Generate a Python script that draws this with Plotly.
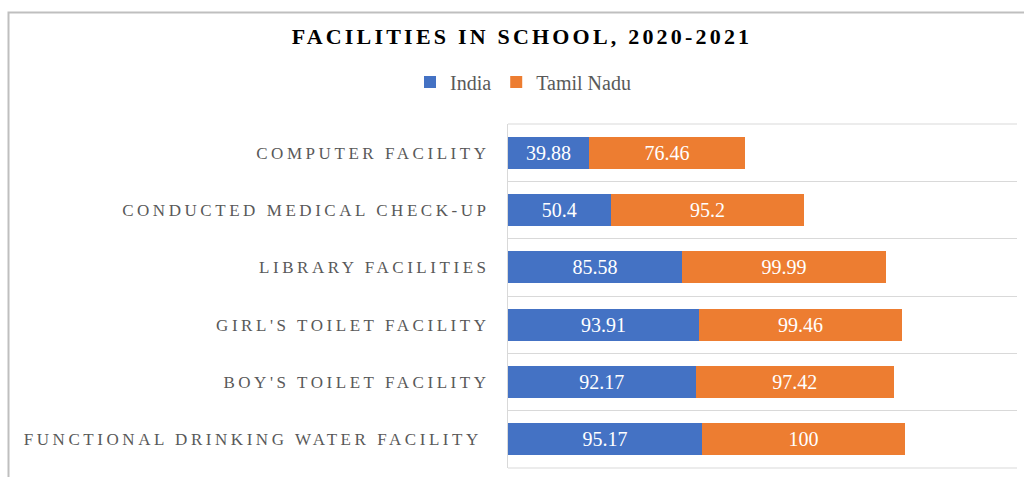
import plotly.graph_objects as go

# School facility coverage (%), 2020-2021, listed top to bottom
categories = [
    "COMPUTER FACILITY",
    "CONDUCTED MEDICAL CHECK-UP",
    "LIBRARY FACILITIES",
    "GIRL'S TOILET FACILITY",
    "BOY'S TOILET FACILITY",
    "FUNCTIONAL DRINKING WATER FACILITY",
]
india = [39.88, 50.4, 85.58, 93.91, 92.17, 95.17]
tamil_nadu = [76.46, 95.2, 99.99, 99.46, 97.42, 100]

series_names = ["India", "Tamil Nadu"]
series_colors = ["#4472C4", "#ED7D31"]

# tick text keeps the trailing space of the last label
tick_text = [c if c != categories[-1] else c + "\u00a0" for c in categories]

SERIF = "Times New Roman, Liberation Serif, serif"
W, H = 1024, 477
L, R, T, B = 508, 7, 124, 9
GRID = "#D9D9D9"

fig = go.Figure()
for name, vals, col in zip(series_names, [india, tamil_nadu], series_colors):
    fig.add_trace(go.Bar(
        name=name,
        y=categories,
        x=vals,
        orientation="h",
        marker=dict(color=col, line=dict(width=0)),
        texttemplate="%{x}",
        textposition="inside",
        insidetextanchor="middle",
        constraintext="none",
        textangle=0,
        textfont=dict(family=SERIF, size=20, color="white"),
        hoverinfo="skip",
    ))

def px_x(px):
    return (px - L) / (W - L - R)

def px_y(py):
    return (H - B - py) / (H - T - B)

# outer chart border (left and top edges visible)
fig.add_shape(type="rect", xref="paper", yref="paper",
              x0=px_x(8.5), x1=px_x(1100), y0=px_y(520), y1=px_y(12.5),
              line=dict(color="#BFBFBF", width=2), fillcolor="rgba(0,0,0,0)",
              layer="below")

# outer category boundaries (top and bottom gridlines)
for yb in (0, 1):
    fig.add_shape(type="line", xref="paper", yref="paper",
                  x0=0, x1=1, y0=yb, y1=yb,
                  line=dict(color=GRID, width=1), layer="below")

fig.update_layout(
    width=W, height=H,
    margin=dict(l=L, r=R, t=T, b=B, autoexpand=False),
    paper_bgcolor="white", plot_bgcolor="white",
    barmode="stack", bargap=0.44,
    title=dict(text="<b>FACILITIES IN SCHOOL, 2020-2021</b>",
               font=dict(family=SERIF, size=22, color="#000000"),
               x=522 / W, xanchor="center", xref="container",
               y=1 - 36 / H, yanchor="middle", yref="container"),
    legend=dict(orientation="h", xref="container", yref="container",
                x=523 / W, xanchor="center", y=1 - 82 / H, yanchor="middle",
                font=dict(family=SERIF, size=20, color="#595959"),
                traceorder="normal", bgcolor="rgba(0,0,0,0)"),
    xaxis=dict(range=[0, 250], showgrid=False, zeroline=False,
               showticklabels=False, showline=False, fixedrange=True),
    yaxis=dict(type="category", autorange="reversed", tickson="boundaries",
               tickvals=categories, ticktext=tick_text,
               showgrid=True, gridcolor=GRID, gridwidth=1,
               showline=True, linecolor=GRID, linewidth=1,
               ticks="", ticklabelstandoff=14,
               tickfont=dict(family=SERIF, size=17, color="#595959"),
               fixedrange=True),
    showlegend=True,
)

letter_spacing = """
var s = document.createElement('style');
s.textContent = '.gtitle{letter-spacing:3.2px}.ytick text{letter-spacing:3.55px}';
document.head.appendChild(s);
"""

fig.write_html("out.html", post_script=letter_spacing)
